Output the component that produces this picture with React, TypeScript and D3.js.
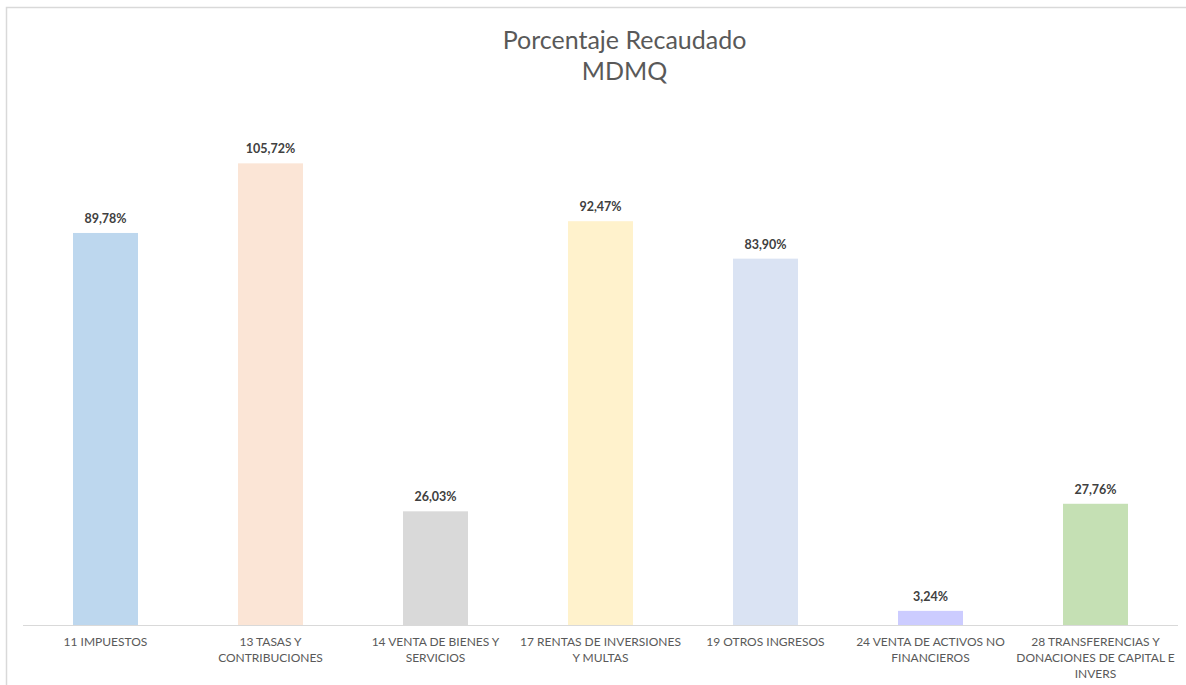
import React from "react";
import * as d3 from "d3";

const categories: string[][] = [
  ["11 IMPUESTOS"],
  ["13 TASAS Y", "CONTRIBUCIONES"],
  ["14 VENTA DE BIENES Y", "SERVICIOS"],
  ["17 RENTAS DE INVERSIONES", "Y MULTAS"],
  ["19 OTROS INGRESOS"],
  ["24 VENTA DE ACTIVOS NO", "FINANCIEROS"],
  ["28 TRANSFERENCIAS Y", "DONACIONES DE CAPITAL E", "INVERS"],
];
const values: number[] = [89.78, 105.72, 26.03, 92.47, 83.9, 3.24, 27.76];
const valueLabels: string[] = ["89,78%", "105,72%", "26,03%", "92,47%", "83,90%", "3,24%", "27,76%"];
const colors: string[] = ["#BDD7EE", "#FBE5D6", "#D9D9D9", "#FFF2CC", "#DAE3F3", "#CCCCFF", "#C5E0B4"];
const titleLines: string[] = ["Porcentaje Recaudado", "MDMQ"];

const W = 1186;
const H = 685;
const left = 23;
const right = 1178;
const baseline = 625;
const top = 101;
const font = "Lato, 'Open Sans', sans-serif";

export default function App() {
  const idx = values.map((_, i) => String(i));
  const x = d3.scaleBand<string>().domain(idx).range([left, right]).paddingInner(0.606).paddingOuter(0.303);
  const y = d3.scaleLinear().domain([0, 120]).range([baseline, top]);

  return (
    <svg width={W} height={H} style={{ position: "absolute", left: 0, top: 0, background: "#fff" }}>
      <rect x={6.5} y={7.5} width={W + 10} height={H + 10} fill="#fff" stroke="#D9D9D9" strokeWidth={1.5} />
      {titleLines.map((t, i) => (
        <text key={t} x={624.5} y={49 + i * 31} textAnchor="middle" fontFamily={font} fontSize={25} fill="#595959">
          {t}
        </text>
      ))}
      {values.map((v, i) => (
        <g key={i}>
          <rect x={x(String(i))} y={y(v)} width={x.bandwidth()} height={baseline - y(v)} fill={colors[i]} />
          <text
            x={(x(String(i)) as number) + x.bandwidth() / 2}
            y={y(v) - 10}
            textAnchor="middle"
            fontFamily={font}
            fontWeight="bold"
            fontSize={12.5}
            fill="#404040"
          >
            {valueLabels[i]}
          </text>
        </g>
      ))}
      <line x1={left} x2={right} y1={baseline + 0.5} y2={baseline + 0.5} stroke="#D9D9D9" strokeWidth={1} />
      {categories.map((lines, i) => (
        <text
          key={i}
          x={(x(String(i)) as number) + x.bandwidth() / 2}
          textAnchor="middle"
          fontFamily={font}
          fontSize={12}
          fill="#595959"
        >
          {lines.map((l, j) => (
            <tspan key={j} x={(x(String(i)) as number) + x.bandwidth() / 2} y={646 + j * 16}>
              {l}
            </tspan>
          ))}
        </text>
      ))}
    </svg>
  );
}
